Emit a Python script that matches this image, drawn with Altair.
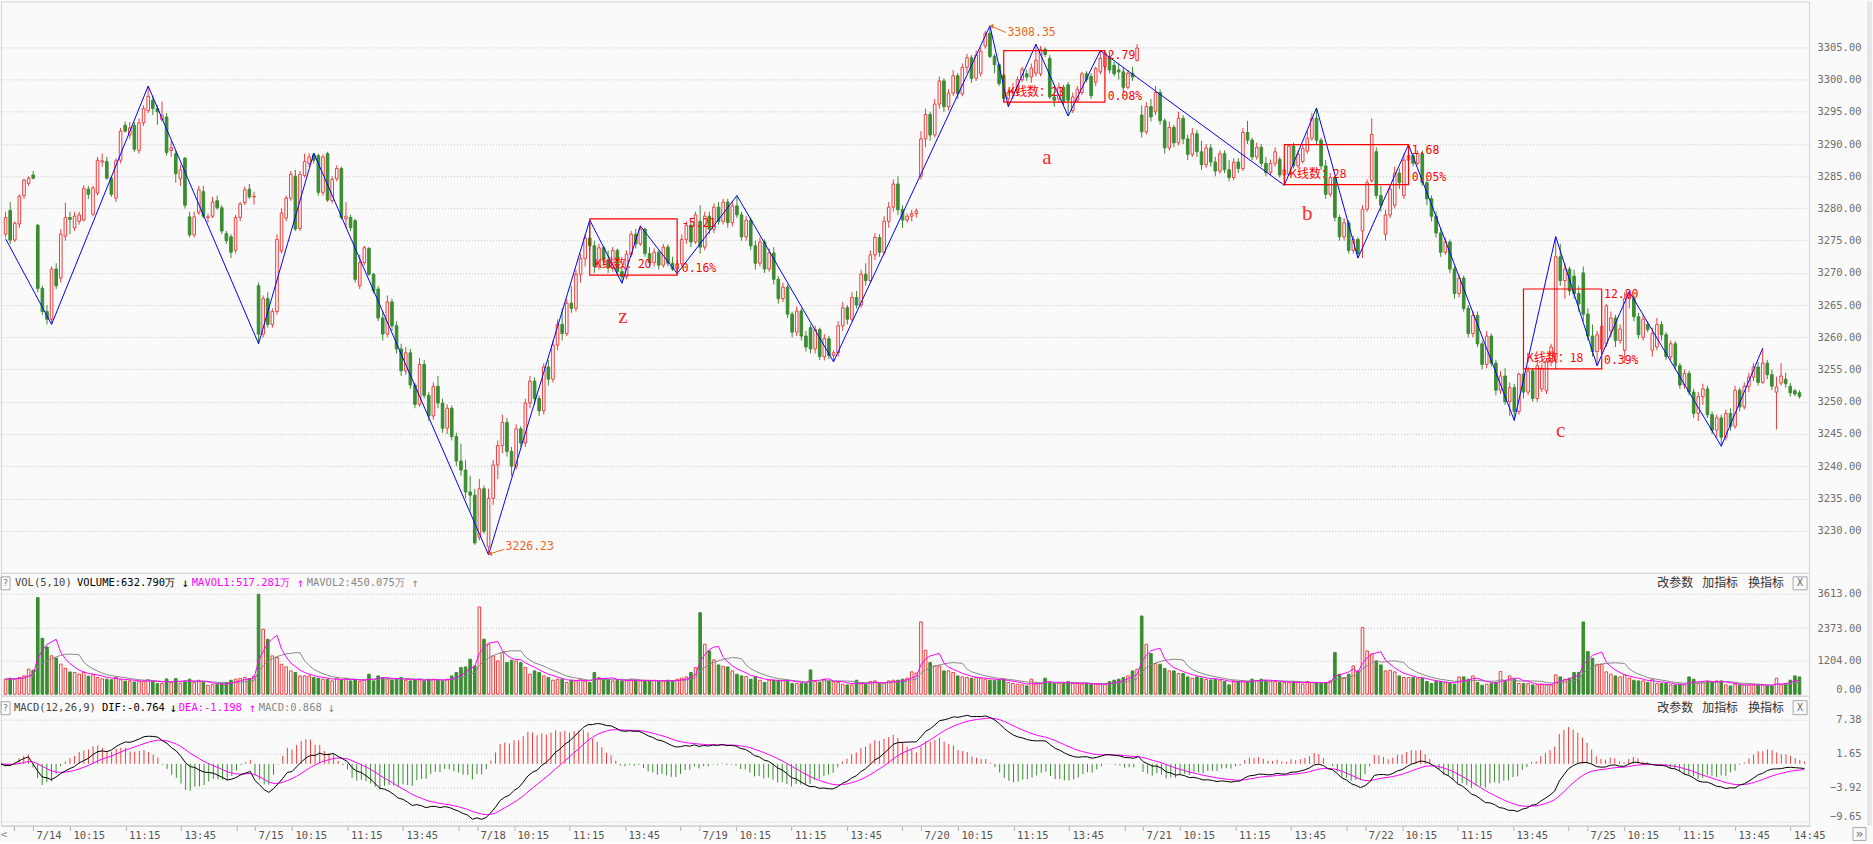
import altair as alt
import pandas as pd
import numpy as np

# ---------------- data ----------------
DAY_LABELS = ["7/14", "7/15", "7/18", "7/19", "7/20", "7/21", "7/22", "7/25"]
TIME_LABELS = ["10:15", "11:15", "13:45"]

# 5-minute bars: (open, high, low, close)
k0713 = [(3276.0,3279.5,3275.5,3278.6),(3279.7,3281.0,3274.5,3275.1),(3275.1,3278.0,3274.8,3277.7),
         (3277.6,3282.2,3277.0,3281.9),(3282.0,3284.6,3281.5,3284.4),(3283.9,3285.0,3283.5,3284.7),
         (3285.2,3285.8,3284.5,3284.7)]
k0714 = [(3277.4,3277.6,3267.0,3267.6),(3267.6,3268.0,3263.5,3264.0),(3264.0,3265.0,3262.0,3262.8),
         (3262.8,3271.0,3262.2,3270.6),(3270.6,3271.5,3267.5,3268.0),(3269.2,3276.8,3268.5,3276.0),
         (3275.7,3280.9,3275.0,3278.6),(3278.6,3279.5,3276.0,3278.3),(3277.0,3279.5,3276.5,3278.8),
         (3278.0,3279.5,3277.5,3279.0),(3278.2,3283.6,3278.0,3283.1),(3283.0,3283.5,3281.5,3282.2),
         (3279.1,3283.5,3278.8,3283.2),(3282.4,3288.0,3282.0,3287.5),(3287.2,3288.5,3286.5,3287.4),
         (3287.3,3288.0,3284.5,3284.7),(3284.7,3285.0,3281.8,3282.2),(3281.6,3287.8,3281.0,3287.4),
         (3287.5,3292.5,3287.0,3292.0),(3292.9,3293.5,3291.8,3292.0),(3291.4,3293.4,3290.8,3292.5),
         (3292.9,3293.4,3288.8,3289.2),(3289.0,3294.0,3288.5,3293.3),(3293.3,3296.0,3292.8,3295.5),
         (3295.2,3299.0,3294.8,3297.4),(3296.8,3297.5,3294.5,3295.5),(3295.5,3296.0,3293.0,3295.0),
         (3293.8,3296.6,3293.5,3294.5),(3294.2,3294.8,3288.2,3288.7),(3289.0,3290.5,3288.0,3289.4),
         (3288.5,3289.0,3284.0,3285.4),(3284.6,3286.8,3283.5,3286.0),(3287.8,3288.0,3280.0,3280.5),
         (3278.7,3279.5,3275.5,3275.9),(3275.9,3279.5,3275.5,3278.7),(3279.4,3283.5,3279.0,3282.9),
         (3282.6,3283.5,3278.5,3278.8),(3278.6,3279.2,3277.8,3278.7),(3278.8,3281.8,3278.5,3281.0),
         (3281.2,3282.0,3279.8,3280.1),(3280.1,3280.5,3276.0,3276.5),(3276.1,3276.5,3274.5,3275.0),
         (3275.6,3276.0,3272.3,3273.2),(3273.5,3279.0,3273.0,3278.6),(3278.6,3281.0,3278.0,3280.7),
         (3280.9,3283.4,3280.5,3282.9),(3283.0,3283.8,3281.5,3281.8),(3281.8,3282.6,3280.6,3281.9)]
k0715 = [(3268.0,3268.5,3259.0,3260.5),(3260.5,3266.5,3260.0,3266.0),(3266.0,3267.0,3261.5,3262.0),
         (3262.0,3264.5,3261.5,3264.0),(3264.0,3276.0,3263.5,3275.2),(3273.4,3280.0,3273.0,3279.3),
         (3278.5,3282.0,3278.0,3281.6),(3281.6,3285.8,3281.2,3285.3),(3285.0,3286.0,3276.5,3276.8),
         (3276.9,3285.8,3276.5,3285.3),(3285.1,3288.5,3284.8,3287.3),(3287.0,3288.6,3286.5,3288.0),
         (3288.3,3288.6,3287.0,3287.5),(3288.2,3288.5,3282.0,3282.5),(3282.5,3288.4,3282.0,3288.0),
         (3288.5,3288.8,3281.0,3281.3),(3281.2,3285.0,3280.8,3284.5),(3284.6,3286.7,3284.2,3286.2),
         (3286.2,3286.5,3278.3,3278.6),(3278.4,3281.0,3277.0,3278.8),(3278.6,3279.0,3276.5,3277.0),
         (3278.1,3278.4,3268.5,3269.0),(3268.0,3272.8,3267.5,3271.6),(3271.6,3274.2,3271.2,3273.9),
         (3273.8,3274.0,3269.5,3269.8),(3269.8,3270.0,3266.8,3267.2),(3267.5,3268.0,3262.5,3263.0),
         (3263.0,3264.0,3259.5,3260.5),(3260.5,3266.5,3260.0,3265.5),(3265.5,3266.0,3261.0,3261.8),
         (3261.8,3262.5,3257.5,3258.2),(3258.2,3259.0,3254.0,3254.8),(3254.8,3258.5,3254.2,3257.6),
         (3257.6,3258.2,3252.0,3252.6),(3252.6,3253.0,3249.0,3249.6),(3249.6,3256.8,3249.2,3255.8),
         (3255.8,3256.5,3250.5,3251.0),(3251.0,3251.5,3247.0,3247.8),(3247.8,3253.0,3247.2,3252.4),
         (3252.4,3254.0,3249.0,3249.8),(3249.8,3250.5,3245.2,3245.9),(3245.9,3249.6,3245.0,3249.0),
         (3249.0,3249.4,3244.0,3244.6),(3244.6,3245.2,3240.0,3240.8),(3240.8,3243.5,3238.5,3239.4),
         (3239.4,3241.0,3235.0,3236.0),(3236.0,3238.5,3233.0,3235.5),(3235.5,3236.5,3227.8,3228.1)]
k0718 = [(3229.0,3238.0,3228.5,3236.5),(3236.5,3237.0,3229.5,3229.9),(3227.5,3236.5,3226.23,3235.0),
         (3235.0,3241.0,3234.0,3240.2),(3240.2,3244.0,3238.0,3243.2),(3243.2,3248.0,3242.0,3246.8),
         (3246.8,3247.5,3241.5,3242.3),(3242.3,3243.0,3238.5,3240.0),(3240.0,3246.5,3239.5,3245.8),
         (3245.8,3246.2,3243.0,3243.6),(3243.6,3250.5,3243.0,3249.8),(3249.8,3254.0,3249.0,3253.2),
         (3253.2,3253.8,3249.5,3250.5),(3250.5,3251.0,3247.8,3248.6),(3248.6,3256.0,3248.0,3255.4),
         (3255.4,3256.5,3252.5,3253.5),(3253.5,3259.5,3253.0,3258.8),(3258.8,3262.8,3258.0,3262.0),
         (3262.0,3264.5,3259.5,3260.6),(3260.6,3266.0,3260.2,3265.3),(3265.3,3268.0,3263.8,3264.5),
         (3264.5,3270.5,3264.0,3269.8),(3269.8,3273.0,3268.5,3272.2),(3272.2,3276.0,3271.0,3275.4),
         (3275.4,3278.2,3273.5,3274.2),(3274.2,3275.0,3270.0,3271.0),(3271.0,3274.5,3270.5,3273.9),
         (3273.9,3274.2,3271.2,3272.0),(3272.0,3273.5,3270.0,3270.8),(3270.8,3274.0,3270.2,3273.5),
         (3273.5,3273.8,3269.5,3270.2),(3270.2,3271.0,3268.4,3269.4),(3269.4,3273.5,3269.0,3272.9),
         (3272.9,3276.5,3272.5,3276.0),(3276.0,3276.8,3273.8,3274.5),(3274.5,3277.3,3274.2,3276.8),
         (3276.8,3277.0,3272.5,3273.0),(3273.0,3274.0,3271.0,3271.6),(3271.6,3273.8,3271.0,3273.2),
         (3273.2,3273.5,3270.5,3271.2),(3271.2,3274.5,3270.8,3274.0),(3274.0,3274.4,3271.0,3271.5),
         (3271.5,3272.5,3270.3,3270.6),(3270.6,3272.0,3269.9,3271.4),(3271.4,3276.0,3271.0,3275.2),
         (3275.2,3278.0,3274.5,3277.4),(3277.4,3277.9,3274.0,3274.8),(3274.8,3279.5,3274.5,3279.0)]
k0719 = [(3278.0,3280.5,3273.0,3274.0),(3274.0,3279.5,3273.5,3278.8),(3278.8,3279.5,3276.0,3276.8),
         (3276.8,3280.8,3276.2,3280.2),(3280.2,3281.0,3277.5,3278.0),(3278.0,3281.5,3277.5,3281.0),
         (3281.0,3281.5,3277.0,3277.8),(3277.8,3281.2,3277.2,3280.4),(3280.4,3282.0,3278.5,3279.0),
         (3279.0,3279.5,3275.0,3275.6),(3275.6,3278.8,3275.0,3278.2),(3278.2,3278.6,3273.5,3274.2),
         (3274.2,3275.0,3270.5,3271.5),(3271.5,3275.5,3271.0,3274.8),(3274.8,3275.2,3270.0,3270.6),
         (3270.6,3273.8,3270.2,3273.1),(3273.1,3274.0,3268.2,3269.0),(3269.0,3269.5,3265.2,3266.0),
         (3266.0,3268.5,3265.5,3267.8),(3267.8,3268.2,3263.0,3263.6),(3263.6,3264.0,3260.0,3260.8),
         (3260.8,3264.8,3260.2,3264.1),(3264.1,3264.5,3259.5,3260.2),(3260.2,3261.0,3257.8,3258.5),
         (3261.5,3262.0,3257.5,3258.2),(3258.2,3261.8,3257.5,3261.2),(3261.2,3261.5,3256.5,3257.0),
         (3257.0,3260.5,3256.4,3259.8),(3259.8,3260.2,3256.6,3257.2),(3257.2,3258.0,3256.2,3257.6),
         (3257.6,3262.5,3257.0,3261.8),(3261.8,3265.5,3261.0,3264.6),(3264.6,3265.0,3262.0,3262.8),
         (3262.8,3267.0,3262.5,3266.2),(3266.2,3267.2,3264.5,3265.0),(3265.0,3270.5,3264.6,3269.8),
         (3269.8,3271.5,3268.0,3268.8),(3268.8,3273.5,3268.4,3272.8),(3272.8,3276.2,3272.0,3275.5),
         (3275.5,3276.0,3272.5,3273.2),(3273.2,3278.8,3272.8,3278.0),(3278.0,3281.0,3277.0,3280.2),
         (3280.2,3284.5,3279.5,3283.8),(3283.8,3285.0,3279.0,3279.8),(3279.8,3280.5,3277.0,3278.2),
         (3278.2,3279.2,3277.8,3278.8),(3278.8,3279.8,3278.0,3279.2),(3279.2,3280.0,3278.6,3279.6)]
k0720 = [(3285.0,3292.0,3284.5,3290.8),(3290.8,3295.5,3289.5,3294.6),(3294.6,3295.0,3290.5,3291.4),
         (3291.4,3297.0,3291.0,3296.2),(3296.2,3300.5,3295.5,3299.8),(3299.8,3300.2,3295.0,3295.8),
         (3295.8,3298.5,3295.2,3297.9),(3297.9,3301.5,3297.5,3300.6),(3300.6,3301.0,3297.0,3297.8),
         (3297.8,3302.5,3297.4,3301.9),(3301.9,3304.0,3301.0,3303.4),(3303.4,3303.8,3299.5,3300.2),
         (3300.2,3304.5,3299.8,3303.8),(3301.0,3305.0,3300.5,3304.4),(3305.2,3307.6,3304.8,3307.2),
         (3307.2,3308.35,3303.3,3303.6),(3303.6,3304.0,3301.0,3302.3),(3302.3,3302.5,3299.0,3299.4),
         (3300.7,3301.0,3296.5,3297.1),(3297.1,3298.5,3295.8,3298.0),(3298.0,3299.5,3297.0,3298.2),
         (3298.2,3300.5,3297.5,3300.0),(3300.0,3302.0,3299.6,3301.6),(3300.9,3301.5,3299.8,3300.4),
         (3300.4,3302.5,3299.5,3301.8),(3301.0,3305.5,3300.5,3303.0),(3300.9,3305.2,3300.5,3304.7),
         (3304.7,3305.0,3303.5,3303.9),(3303.3,3303.8,3297.0,3297.3),(3297.3,3299.0,3295.8,3296.8),
         (3297.0,3299.5,3296.5,3298.8),(3298.8,3299.2,3296.0,3296.6),(3299.2,3299.6,3294.35,3296.8),
         (3295.2,3298.0,3294.8,3297.3),(3296.8,3299.0,3296.5,3298.5),(3298.0,3301.2,3297.6,3300.9),
         (3300.9,3301.3,3299.6,3300.0),(3300.5,3301.0,3297.0,3297.5),(3299.6,3302.0,3299.0,3301.7),
         (3301.2,3304.5,3300.8,3303.3),(3302.0,3304.4,3301.5,3304.1),(3303.5,3304.3,3301.0,3301.5),
         (3302.2,3302.8,3300.5,3300.9),(3301.5,3302.5,3300.0,3301.2),(3301.2,3301.8,3298.0,3298.8),
         (3298.8,3301.5,3298.5,3301.0),(3301.0,3302.0,3299.8,3300.4),(3303.0,3305.5,3302.8,3304.9)]
k0721 = [(3294.5,3296.0,3291.0,3291.9),(3291.9,3296.5,3291.5,3295.8),(3295.8,3297.0,3293.5,3294.2),
         (3295.0,3299.0,3294.5,3298.0),(3298.0,3298.5,3293.0,3293.6),(3293.6,3294.0,3288.5,3289.4),
         (3289.4,3293.5,3289.0,3292.6),(3292.6,3293.0,3289.5,3290.2),(3290.2,3295.0,3289.8,3294.0),
         (3294.0,3294.5,3290.0,3290.8),(3290.8,3291.5,3287.5,3288.4),(3288.4,3292.5,3288.0,3291.6),
         (3291.6,3292.2,3288.0,3288.8),(3288.8,3290.5,3286.0,3286.8),(3286.8,3290.0,3286.3,3289.4),
         (3289.4,3290.0,3286.5,3287.2),(3287.2,3288.0,3285.0,3285.8),(3285.8,3289.0,3285.4,3288.5),
         (3288.5,3289.0,3285.5,3286.0),(3286.0,3287.5,3284.2,3284.8),(3284.8,3287.8,3284.4,3287.2),
         (3287.2,3287.8,3285.5,3286.2),(3286.2,3292.5,3285.8,3291.8),(3291.8,3293.6,3290.0,3290.6),
         (3290.6,3291.0,3287.5,3288.0),(3288.0,3290.2,3287.6,3289.5),(3289.5,3290.0,3286.5,3287.0),
         (3287.0,3288.0,3285.0,3285.6),(3285.6,3287.6,3285.2,3287.0),(3287.0,3289.5,3286.5,3288.8),
         (3287.6,3288.0,3284.8,3285.2),(3285.2,3287.0,3283.6,3286.0),(3285.3,3290.0,3285.0,3289.7),
         (3289.7,3290.2,3286.2,3286.6),(3286.6,3289.0,3286.2,3288.4),(3287.3,3290.0,3287.0,3289.3),
         (3288.9,3292.0,3288.5,3290.9),(3290.9,3294.8,3290.5,3294.0),(3294.0,3295.6,3290.0,3290.6),
         (3290.6,3291.0,3286.0,3286.6),(3286.6,3287.5,3281.5,3282.2),(3282.2,3285.5,3281.8,3284.8),
         (3284.8,3285.0,3278.0,3278.6),(3278.6,3279.0,3275.0,3275.6),(3275.6,3278.5,3275.0,3277.8),
         (3277.8,3278.2,3273.0,3273.5),(3273.5,3275.8,3273.0,3275.2),(3275.2,3275.5,3272.3,3273.0)]
k0722 = [(3276.5,3280.5,3272.3,3279.9),(3279.9,3284.5,3279.5,3284.0),(3284.3,3294.0,3284.0,3291.5),
         (3288.8,3289.5,3281.5,3282.0),(3282.0,3283.5,3279.5,3280.5),(3276.0,3279.8,3275.0,3279.0),
         (3279.0,3283.5,3278.5,3283.0),(3280.5,3286.5,3280.0,3285.5),(3285.5,3286.2,3283.0,3284.0),
         (3282.0,3288.5,3281.5,3287.5),(3287.5,3289.9,3287.0,3288.2),(3288.2,3288.6,3286.5,3287.0),
         (3287.0,3289.0,3286.8,3288.5),(3288.5,3289.0,3283.5,3284.0),(3284.0,3284.5,3280.5,3281.5),
         (3281.5,3282.0,3278.0,3278.8),(3278.8,3279.5,3275.5,3276.2),(3276.2,3277.0,3272.5,3273.2),
         (3273.2,3275.5,3272.8,3274.8),(3274.8,3275.2,3270.0,3270.6),(3270.6,3271.0,3266.0,3266.8),
         (3266.8,3269.8,3266.2,3269.2),(3269.2,3269.6,3264.0,3264.5),(3264.5,3265.0,3260.0,3260.6),
         (3260.6,3264.0,3260.0,3263.4),(3263.4,3264.0,3258.5,3259.0),(3259.0,3259.5,3255.0,3255.8),
         (3255.8,3261.0,3255.2,3260.2),(3260.2,3260.6,3255.5,3256.0),(3256.0,3256.5,3251.0,3251.8),
         (3251.8,3254.8,3251.2,3254.0),(3254.0,3255.2,3249.5,3250.0),(3250.0,3253.0,3247.8,3252.2),
         (3252.2,3252.8,3247.1,3248.5),(3248.5,3254.5,3248.0,3254.3),(3254.3,3255.0,3250.5,3251.5),
         (3251.5,3255.5,3251.0,3254.8),(3254.8,3255.2,3250.0,3250.5),(3250.5,3256.5,3250.0,3255.6),
         (3252.0,3256.0,3251.5,3255.2),(3251.7,3256.8,3251.2,3256.3),(3256.3,3259.0,3255.5,3258.5),
         (3256.5,3275.65,3255.0,3272.5),(3272.5,3274.5,3268.0,3268.8),(3268.8,3271.5,3266.0,3270.6),
         (3270.6,3271.0,3266.5,3267.2),(3269.5,3270.5,3266.0,3266.8),(3266.8,3268.0,3264.0,3265.2)]
k0725 = [(3270.0,3271.0,3262.5,3263.6),(3263.6,3264.5,3259.5,3260.2),(3260.2,3262.0,3257.0,3257.8),
         (3257.8,3261.0,3255.6,3260.4),(3258.2,3262.5,3257.5,3261.7),(3259.0,3265.2,3258.5,3264.9),
         (3261.0,3264.0,3260.0,3263.0),(3263.0,3263.5,3258.5,3259.5),(3259.5,3262.0,3259.0,3261.3),
         (3258.0,3267.0,3256.0,3266.0),(3266.0,3267.1,3264.5,3266.5),(3266.0,3266.5,3262.5,3263.2),
         (3263.2,3263.8,3259.8,3260.4),(3260.0,3263.5,3259.5,3262.8),(3262.0,3262.5,3260.8,3261.2),
         (3258.0,3261.5,3257.0,3260.6),(3258.5,3263.0,3258.0,3262.0),(3262.0,3262.5,3259.5,3260.4),
         (3260.4,3260.8,3256.5,3257.0),(3257.0,3259.5,3256.5,3259.0),(3259.0,3259.4,3255.0,3255.6),
         (3255.6,3256.0,3252.0,3252.6),(3252.6,3255.0,3252.0,3254.4),(3254.4,3254.8,3251.0,3251.5),
         (3251.5,3252.0,3247.5,3248.2),(3248.2,3251.5,3247.0,3250.8),(3250.8,3252.8,3249.5,3252.0),
         (3252.0,3252.5,3247.5,3248.0),(3248.0,3248.5,3245.0,3245.6),(3245.6,3248.0,3244.5,3247.5),
         (3247.5,3248.0,3243.1,3244.5),(3244.5,3248.8,3244.0,3248.2),(3248.2,3249.0,3245.5,3246.2),
         (3246.2,3252.5,3245.8,3251.8),(3251.8,3252.2,3248.5,3249.2),(3249.2,3253.0,3248.8,3252.4),
         (3252.4,3254.5,3251.5,3253.8),(3253.8,3256.0,3253.2,3255.4),(3255.4,3256.2,3252.5,3253.0),
         (3253.0,3258.3,3252.8,3256.0),(3256.0,3256.5,3253.5,3254.2),(3254.2,3255.0,3251.8,3252.4),
         (3251.5,3253.9,3245.7,3252.3),(3252.9,3256.0,3252.5,3254.0),(3253.5,3254.5,3252.2,3252.8),
         (3252.4,3252.9,3250.8,3251.4),(3251.7,3252.0,3250.9,3251.2),(3251.4,3251.8,3250.5,3250.8)]

# volume per bar (万)
v0713 = [540, 575, 540, 600, 660, 900, 860]
v0714 = [3470, 2010, 1700, 1380, 1300, 1080, 930, 800, 780, 720, 780, 650, 700, 600, 550, 540,
         520, 600, 520, 470, 480, 440, 470, 480, 520, 450, 380, 380, 550, 420, 560, 400,
         470, 540, 420, 500, 430, 320, 340, 350, 380, 420, 500, 540, 560, 600, 560, 650]
v0715 = [3590, 2334, 1975, 1377, 1317, 1077, 981, 838, 778, 658, 658, 658, 598, 575, 539, 539,
         479, 575, 515, 575, 479, 515, 455, 515, 718, 479, 658, 598, 539, 503, 539, 598,
         503, 479, 515, 539, 479, 539, 539, 503, 479, 539, 658, 778, 958, 980, 1257, 1017]
v0718 = [3136, 1975, 1795, 1377, 1197, 1496, 1137, 1220, 1197, 1137, 958, 718, 838, 778, 658, 598,
         503, 539, 539, 419, 503, 479, 539, 479, 419, 778, 598, 539, 539, 479, 503, 479,
         479, 539, 503, 479, 479, 479, 503, 455, 479, 503, 479, 539, 575, 622, 778, 958]
v0719 = [2930, 1795, 1556, 1233, 1053, 993, 981, 838, 718, 658, 634, 539, 634, 503, 419, 503,
         503, 503, 503, 479, 383, 383, 383, 383, 873, 455, 419, 539, 479, 455, 419, 359,
         335, 335, 503, 383, 359, 455, 479, 383, 383, 479, 503, 503, 539, 575, 802, 760]
v0720 = [2600, 1580, 1137, 1017, 1017, 838, 838, 778, 658, 622, 598, 575, 598, 575, 539, 503,
         503, 503, 539, 419, 383, 359, 335, 299, 539, 359, 383, 575, 419, 383, 383, 383,
         455, 383, 383, 359, 383, 359, 359, 359, 359, 455, 503, 539, 598, 658, 838, 898]
v0721 = [2810, 1795, 1460, 1101, 1077, 922, 838, 838, 742, 742, 622, 575, 622, 575, 539, 514,
         539, 503, 455, 335, 479, 455, 479, 455, 539, 479, 539, 503, 455, 455, 419, 419,
         419, 455, 419, 359, 455, 419, 419, 383, 419, 479, 1496, 718, 598, 718, 1017, 838]
v0722 = [2394, 1556, 1436, 1197, 1053, 838, 862, 800, 658, 598, 598, 598, 575, 575, 455, 383,
         455, 455, 419, 383, 359, 622, 622, 539, 658, 419, 323, 359, 383, 419, 814, 455,
         658, 539, 383, 383, 383, 335, 335, 359, 335, 335, 694, 622, 539, 575, 778, 778]
v0725 = [2597, 1532, 1293, 1077, 1077, 802, 718, 658, 622, 694, 575, 503, 479, 479, 419, 539,
         383, 383, 383, 335, 335, 359, 335, 622, 539, 383, 419, 455, 455, 479, 479, 335,
         299, 359, 335, 335, 335, 335, 335, 335, 299, 299, 575, 335, 383, 503, 658, 622]

# zig-zag turning points (bar index, price)
ZZ_I = [0, 10, 31, 55, 67, 105, 127, 134, 138, 146, 159, 180, 214, 218, 224, 231, 238,
        278, 285, 294, 305, 328, 337, 346, 353, 373, 382]
ZZ_P = [3275.3, 3262.0, 3299.0, 3259.0, 3288.6, 3226.23, 3278.2, 3268.4, 3277.3, 3269.9,
        3282.0, 3256.2, 3308.35, 3295.8, 3305.5, 3294.35, 3304.5, 3283.6, 3295.6, 3272.3,
        3289.9, 3247.1, 3275.65, 3255.6, 3267.1, 3243.1, 3258.3]

# consolidation boxes
BOX_I0 = [127, 217, 278, 330]
BOX_I1 = [146, 239, 305, 347]
BOX_TOP = [3278.4, 3304.5, 3289.9, 3267.5]
BOX_BOT = [3269.65, 3296.5, 3283.7, 3255.1]
BOX_COUNT = ["K线数：20", "K线数：23", "K线数：28", "K线数：18"]
BOX_COUNT_I = [128.0, 217.8, 279.1, 330.6]
BOX_COUNT_P = [3271.4, 3298.0, 3285.4, 3256.75]
BOX_VAL = ["-5.21", "2.79", "1.68", "12.80"]
BOX_VAL_I = [147.0, 239.6, 305.7, 347.5]
BOX_VAL_P = [3277.6, 3303.6, 3288.9, 3266.55]
BOX_PCT = ["0.16%", "0.08%", "0.05%", "0.39%"]
BOX_PCT_P = [3270.6, 3297.3, 3284.8, 3256.3]

WAVE_TXT = ["z", "a", "b", "c"]
WAVE_I = [134.2, 226.4, 283.0, 338.1]
WAVE_P = [3263.1, 3287.9, 3279.2, 3245.5]

EXT_TXT = ["3308.35", "3226.23"]
EXT_I = [217.8, 108.7]
EXT_P = [3307.2, 3227.5]
ARROW_I0 = [214.3, 105.3]
ARROW_P0 = [3308.3, 3226.4]
ARROW_I1 = [217.5, 108.4]
ARROW_P1 = [3307.3, 3227.1]

PRICE_TICKS = [3230, 3235, 3240, 3245, 3250, 3255, 3260, 3265, 3270, 3275, 3280, 3285,
               3290, 3295, 3300, 3305]
VOL_TICKS = [0, 1204, 2373, 3613]
MACD_TICKS = [-9.65, -3.92, 1.65, 7.38]

# ---------------- build tables ----------------
rows = k0713 + k0714 + k0715 + k0718 + k0719 + k0720 + k0721 + k0722 + k0725
vols = v0713 + v0714 + v0715 + v0718 + v0719 + v0720 + v0721 + v0722 + v0725
assert len(rows) == len(vols) == 391, (len(rows), len(vols))
df = pd.DataFrame(rows, columns=["o", "h", "l", "c"])
df["i"] = np.arange(len(df))
df["dir"] = np.where(df.c >= df.o, "up", "down")
df["v"] = vols
df["ma5"] = df.v.rolling(5, min_periods=1).mean()
df["ma10"] = df.v.rolling(10, min_periods=1).mean()
ema12 = df.c.ewm(span=12, adjust=False).mean()
ema26 = df.c.ewm(span=26, adjust=False).mean()
df["dif"] = ema12 - ema26
df["dea"] = df.dif.ewm(span=9, adjust=False).mean()
df["m"] = 2 * (df.dif - df.dea)
df["ms"] = np.where(df.m >= 0, "pos", "neg")

zz = pd.DataFrame({"i": ZZ_I, "p": ZZ_P})
boxes = pd.DataFrame({"i0": BOX_I0, "i1": BOX_I1, "top": BOX_TOP, "bot": BOX_BOT})
cnt = pd.DataFrame({"i": BOX_COUNT_I, "p": BOX_COUNT_P, "t": BOX_COUNT})
val = pd.DataFrame({"i": BOX_VAL_I + BOX_VAL_I, "p": BOX_VAL_P + BOX_PCT_P, "t": BOX_VAL + BOX_PCT})
wav = pd.DataFrame({"i": WAVE_I, "p": WAVE_P, "t": WAVE_TXT})
ext = pd.DataFrame({"i": EXT_I, "p": EXT_P, "t": EXT_TXT})
arr = pd.DataFrame({"i": ARROW_I0, "p": ARROW_P0, "i2": ARROW_I1, "p2": ARROW_P1})

TICK_IDX, TICK_LAB = [3], [""]
for d, lab in enumerate(DAY_LABELS):
    s = 7 + 48 * d
    TICK_IDX += [s, s + 8, s + 20, s + 32, s + 44]
    TICK_LAB += [lab] + TIME_LABELS + (["14:45"] if d == len(DAY_LABELS) - 1 else [""])
label_expr = ("[" + ",".join("'%s'" % t for t in TICK_LAB) + "][indexof(["
              + ",".join(str(t) for t in TICK_IDX) + "], datum.value)]")

# ---------------- style ----------------
RED = "#ee3d3d"
GREEN = "#3a8d31"
BG = "#fafafa"
MAG = "#ff00ff"
GRAY = "#888888"
ORANGE = "#f0661e"
MONO = "DejaVu Sans Mono"
CJK = "Noto Sans CJK SC"
W = 1810
H_P, H_V, H_M = 572, 123, 130

XS = alt.Scale(domain=[0.0886, 391.0], nice=False, zero=False)
PS = alt.Scale(domain=[3223.45, 3312.13], nice=False, zero=False)
VS = alt.Scale(domain=[-54, 4362], nice=False, zero=False)
MS = alt.Scale(domain=[-10.32, 11.39], nice=False, zero=False)

def yaxis(values, cond_bottom=None):
    kw = dict(orient="right", values=values, format=".2f", title=None, grid=True,
              gridColor="#c4c4c4", gridDash=[1, 2], ticks=False, tickSize=0,
              labelPadding=52, labelAlign="right", domainColor="#d6d6d6",
              labelFont=MONO, labelFontSize=10.5, labelColor="#6e6e6e")
    if cond_bottom is not None:
        kw["labelBaseline"] = {"condition": {"test": "datum.value == %s" % cond_bottom,
                                             "value": "bottom"}, "value": "middle"}
    return alt.Axis(**kw)

PAX = yaxis(PRICE_TICKS)
VAX = alt.Axis(orient="right", values=VOL_TICKS, format=".2f", title=None, grid=True,
               gridColor="#c4c4c4", gridDash=[1, 2], ticks=False, tickSize=0,
               labelPadding=52, labelAlign="right", domainColor="#d6d6d6",
               labelFont=MONO, labelFontSize=10.5, labelColor="#6e6e6e",
               labelBaseline={"condition": {"test": "datum.value == 0", "value": "bottom"},
                              "value": "middle"},
               gridOpacity={"condition": {"test": "datum.value == 0", "value": 0}, "value": 1})
MAX = yaxis(MACD_TICKS, cond_bottom=-9.65)
XAX = alt.Axis(values=TICK_IDX, labelExpr=label_expr, title=None, grid=False,
               tickSize=5, tickColor="#b0b0b0", domainColor="#c8c8c8", labelAlign="left",
               labelOffset=3, labelPadding=0, labelOverlap=False, labelFlush=False,
               labelBound=False, labelFont=MONO, labelFontSize=10.5, labelColor="#555555")

def Xn(f="i"):
    return alt.X(f + ":Q", scale=XS, axis=None)

def Xb(f="i"):
    return alt.X(f + ":Q", scale=XS, axis=XAX)

def Yp(f):
    return alt.Y(f + ":Q", scale=PS, axis=PAX)

def txt(s, x, y, color="#333333", size=10.5, font=MONO, align="left", weight="normal"):
    return alt.Chart(pd.DataFrame({"t": [s]})).mark_text(
        align=align, baseline="middle", color=color, fontSize=size, font=font,
        fontWeight=weight).encode(text="t:N", x=alt.value(x), y=alt.value(y))

def box(x0, x1, y0, y1, color="#a8a8a8"):
    return alt.Chart(pd.DataFrame({"k": [0]})).mark_rect(
        fillOpacity=0, stroke=color, strokeWidth=1).encode(
        x=alt.value(x0), x2=alt.value(x1), y=alt.value(y0), y2=alt.value(y1))

def right_border(h):
    # filled strip without stroke so it does not widen the layout bounds
    return alt.Chart(pd.DataFrame({"k": [0]})).mark_rect(
        color="#e6e6e6", strokeWidth=0).encode(
        x=alt.value(1868), x2=alt.value(1873), y=alt.value(0), y2=alt.value(h))

fill_sc = alt.Scale(domain=["up", "down"], range=[BG, GREEN])
stroke_sc = alt.Scale(domain=["up", "down"], range=[RED, GREEN])

def toolbar(y, yb0, yb1):
    return [txt("改参数", 1658, y, "#333333", 12, CJK),
            txt("加指标", 1703, y, "#333333", 12, CJK),
            txt("换指标", 1749, y, "#333333", 12, CJK),
            box(1794, 1808, yb0, yb1),
            txt("X", 1801, (yb0 + yb1) / 2, "#666666", 10, MONO, "center")]

# ---------------- price panel ----------------
base = alt.Chart(df)
wicks = base.mark_rule(strokeWidth=1, clip=True).encode(
    x=Xn(), y=Yp("l"), y2="h:Q",
    stroke=alt.Stroke("dir:N", scale=stroke_sc, legend=None))
bodies = base.mark_bar(size=2.6, strokeWidth=1, clip=True).encode(
    x=Xn(), y=Yp("o"), y2="c:Q",
    fill=alt.Fill("dir:N", scale=fill_sc, legend=None),
    stroke=alt.Stroke("dir:N", scale=stroke_sc, legend=None))
zigzag = alt.Chart(zz).mark_line(color="#0000ff", strokeWidth=1, clip=True).encode(
    x=Xn(), y=Yp("p"))
rects = alt.Chart(boxes).mark_rect(fillOpacity=0, stroke="#ff0000", strokeWidth=1.2).encode(
    x=Xn("i0"), x2="i1:Q", y=Yp("top"), y2="bot:Q")
cnt_t = alt.Chart(cnt).mark_text(align="left", baseline="middle", color="#ff0000",
                                 fontSize=12, font=CJK).encode(x=Xn(), y=Yp("p"), text="t:N")
val_t = alt.Chart(val).mark_text(align="left", baseline="middle", color="#ff0000",
                                 fontSize=11.5, font=MONO).encode(x=Xn(), y=Yp("p"), text="t:N")
wav_t = alt.Chart(wav).mark_text(align="center", baseline="middle", color="#ff2a2a",
                                 fontSize=21, font="Liberation Serif").encode(
    x=Xn(), y=Yp("p"), text="t:N")
ext_t = alt.Chart(ext).mark_text(align="left", baseline="middle", color=ORANGE,
                                 fontSize=11.5, font=MONO).encode(x=Xn(), y=Yp("p"), text="t:N")
arr_l = alt.Chart(arr).mark_rule(color=ORANGE, strokeWidth=1).encode(
    x=Xn(), y=Yp("p"), x2="i2:Q", y2="p2:Q")
arr_h = alt.Chart(arr).mark_point(shape="triangle-left", filled=True, color=ORANGE,
                                  size=22, opacity=1).encode(x=Xn(), y=Yp("p"))

price = alt.layer(wicks, bodies, zigzag, rects, cnt_t, val_t, wav_t, ext_t, arr_l, arr_h,
                  right_border(H_P)).properties(width=W, height=H_P)

# ---------------- volume panel ----------------
vbars = base.mark_bar(size=2.6, strokeWidth=1, clip=True).encode(
    x=Xn(), y=alt.Y("v:Q", scale=VS, axis=VAX, stack=None),
    fill=alt.Fill("dir:N", scale=fill_sc, legend=None),
    stroke=alt.Stroke("dir:N", scale=stroke_sc, legend=None))
ma5 = base.mark_line(color=MAG, strokeWidth=1, clip=True).encode(
    x=Xn(), y=alt.Y("ma5:Q", scale=VS, axis=VAX))
ma10 = base.mark_line(color=GRAY, strokeWidth=1, clip=True).encode(
    x=Xn(), y=alt.Y("ma10:Q", scale=VS, axis=VAX))
vol_head = [box(0, 9, 4, 17), txt("?", 4.5, 10.5, "#777777", 9, MONO, "center"),
            txt("VOL(5,10)", 14, 10, "#444444"),
            txt("VOLUME:632.790万", 76, 10, "#000000"),
            txt("↓", 181, 10, "#000000", 12),
            txt("MAVOL1:517.281万", 191, 10, MAG),
            txt("↑", 296, 10, MAG, 12),
            txt("MAVOL2:450.075万", 306, 10, GRAY),
            txt("↑", 411, 10, GRAY, 12)] + toolbar(10, 4, 17)
volume = alt.layer(vbars, ma10, ma5, *vol_head, right_border(H_V)).properties(width=W, height=H_V)

# ---------------- MACD panel ----------------
hist = base.mark_rule(strokeWidth=1, clip=True).encode(
    x=Xb(), y=alt.Y("m:Q", scale=MS, axis=MAX), y2=alt.datum(0),
    stroke=alt.Stroke("ms:N", scale=alt.Scale(domain=["pos", "neg"], range=[RED, GREEN]),
                      legend=None))
dif = base.mark_line(color="#000000", strokeWidth=1, clip=True).encode(
    x=Xb(), y=alt.Y("dif:Q", scale=MS, axis=MAX))
dea = base.mark_line(color=MAG, strokeWidth=1, clip=True).encode(
    x=Xb(), y=alt.Y("dea:Q", scale=MS, axis=MAX))
macd_head = [box(0, 9, 6, 19), txt("?", 4.5, 12.5, "#777777", 9, MONO, "center"),
             txt("MACD(12,26,9)", 13, 12, "#444444"),
             txt("DIF:-0.764", 101, 12, "#000000"),
             txt("↓", 169, 12, "#000000", 12),
             txt("DEA:-1.198", 178, 12, MAG),
             txt("↑", 248, 12, MAG, 12),
             txt("MACD:0.868", 258, 12, GRAY),
             txt("↓", 327, 12, GRAY, 12)] + toolbar(12, 5, 19) + [
             txt("<", 3, 139, "#888888", 11, MONO, "center"),
             box(1854, 1867, 132, 145),
             txt("»", 1860.5, 138, "#777777", 13, MONO, "center")]
macd = alt.layer(hist, dea, dif, *macd_head, right_border(H_M)).properties(width=W, height=H_M)

chart = alt.vconcat(price, volume, macd, spacing=0, bounds="flush").properties(
    padding=0, background=BG
).configure_view(stroke="#d6d6d6", strokeWidth=1)

chart.save("out.html", embed_options={"renderer": "svg", "actions": False})
